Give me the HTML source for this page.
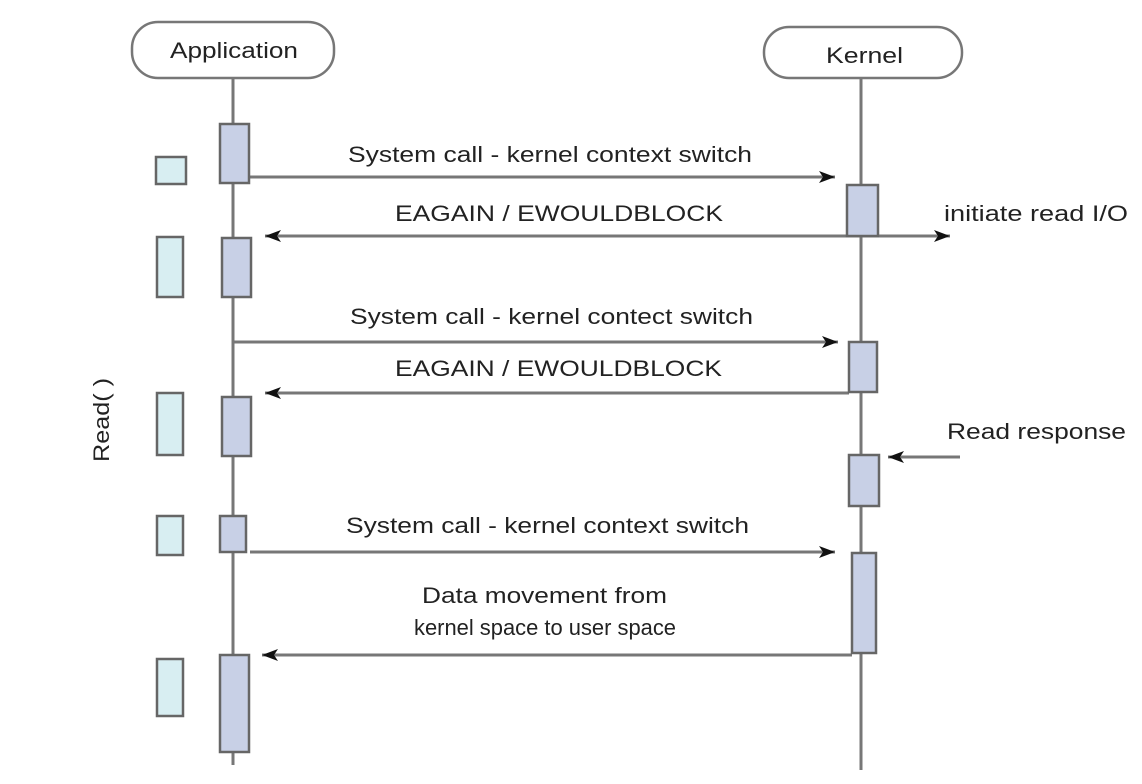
<!DOCTYPE html>
<html><head><meta charset="utf-8"><style>
html,body{margin:0;padding:0;background:#fff;}
svg{display:block;}
text{font-family:"Liberation Sans",Arial,sans-serif;font-size:22px;fill:#222;}
</style></head><body>
<svg width="1142" height="784" viewBox="0 0 1142 784" xmlns="http://www.w3.org/2000/svg">
<defs>
<marker id="ah" viewBox="0 0 16 12" refX="16" refY="6" markerWidth="16" markerHeight="12" markerUnits="userSpaceOnUse" orient="auto-start-reverse">
<path d="M0,0 L16,6 L0,12 L4,6 z" fill="#111"/>
</marker>
</defs>
<g stroke="#777" stroke-width="3" fill="none">
<line x1="233" y1="78" x2="233" y2="765"/>
<line x1="861" y1="78" x2="861" y2="770"/>
</g>
<g stroke="#777" stroke-width="2.5" fill="#fff">
<rect x="132" y="22" width="202" height="56" rx="26"/>
<rect x="764" y="27" width="198" height="51" rx="25"/>
</g>
<text x="170" y="58" textLength="128" lengthAdjust="spacingAndGlyphs" font-family="Liberation Sans">Application</text>
<text x="826" y="63" textLength="77" lengthAdjust="spacingAndGlyphs">Kernel</text>
<g stroke="#777" stroke-width="3" fill="none">
<line x1="249" y1="177" x2="835" y2="177" marker-end="url(#ah)"/>
<line x1="265" y1="236" x2="950" y2="236" marker-start="url(#ah)" marker-end="url(#ah)"/>
<line x1="233" y1="342" x2="838" y2="342" marker-end="url(#ah)"/>
<line x1="849" y1="393" x2="265" y2="393" marker-end="url(#ah)"/>
<line x1="960" y1="457" x2="888" y2="457" marker-end="url(#ah)"/>
<line x1="250" y1="552" x2="835" y2="552" marker-end="url(#ah)"/>
<line x1="852" y1="655" x2="262" y2="655" marker-end="url(#ah)"/>
</g>
<g stroke="#666" stroke-width="2.5" fill="#c8d0e6">
<rect x="220" y="124" width="29" height="59"/>
<rect x="222" y="238" width="29" height="59"/>
<rect x="222" y="397" width="29" height="59"/>
<rect x="220" y="516" width="26" height="36"/>
<rect x="220" y="655" width="29" height="97"/>
<rect x="847" y="185" width="31" height="51"/>
<rect x="849" y="342" width="28" height="50"/>
<rect x="849" y="455" width="30" height="51"/>
<rect x="852" y="553" width="24" height="100"/>
</g>
<g stroke="#666" stroke-width="2.5" fill="#d8eef2">
<rect x="156" y="157" width="30" height="27"/>
<rect x="157" y="237" width="26" height="60"/>
<rect x="157" y="393" width="26" height="62"/>
<rect x="157" y="516" width="26" height="39"/>
<rect x="157" y="659" width="26" height="57"/>
</g>
<text x="348" y="162" textLength="404" lengthAdjust="spacingAndGlyphs">System call - kernel context switch</text>
<text x="395" y="221" textLength="328" lengthAdjust="spacingAndGlyphs">EAGAIN / EWOULDBLOCK</text>
<text x="944" y="221" textLength="184" lengthAdjust="spacingAndGlyphs">initiate read I/O</text>
<text x="350" y="324" textLength="403" lengthAdjust="spacingAndGlyphs">System call - kernel contect switch</text>
<text x="395" y="376" textLength="327" lengthAdjust="spacingAndGlyphs">EAGAIN / EWOULDBLOCK</text>
<text x="947" y="439" textLength="179" lengthAdjust="spacingAndGlyphs">Read response</text>
<text x="346" y="533" textLength="403" lengthAdjust="spacingAndGlyphs">System call - kernel context switch</text>
<text x="422" y="603" textLength="245" lengthAdjust="spacingAndGlyphs">Data movement from</text>
<text x="414" y="635" textLength="262" lengthAdjust="spacingAndGlyphs">kernel space to user space</text>
<text transform="translate(109,462) rotate(-90)" textLength="84" lengthAdjust="spacingAndGlyphs">Read( )</text>
</svg>
</body></html>
